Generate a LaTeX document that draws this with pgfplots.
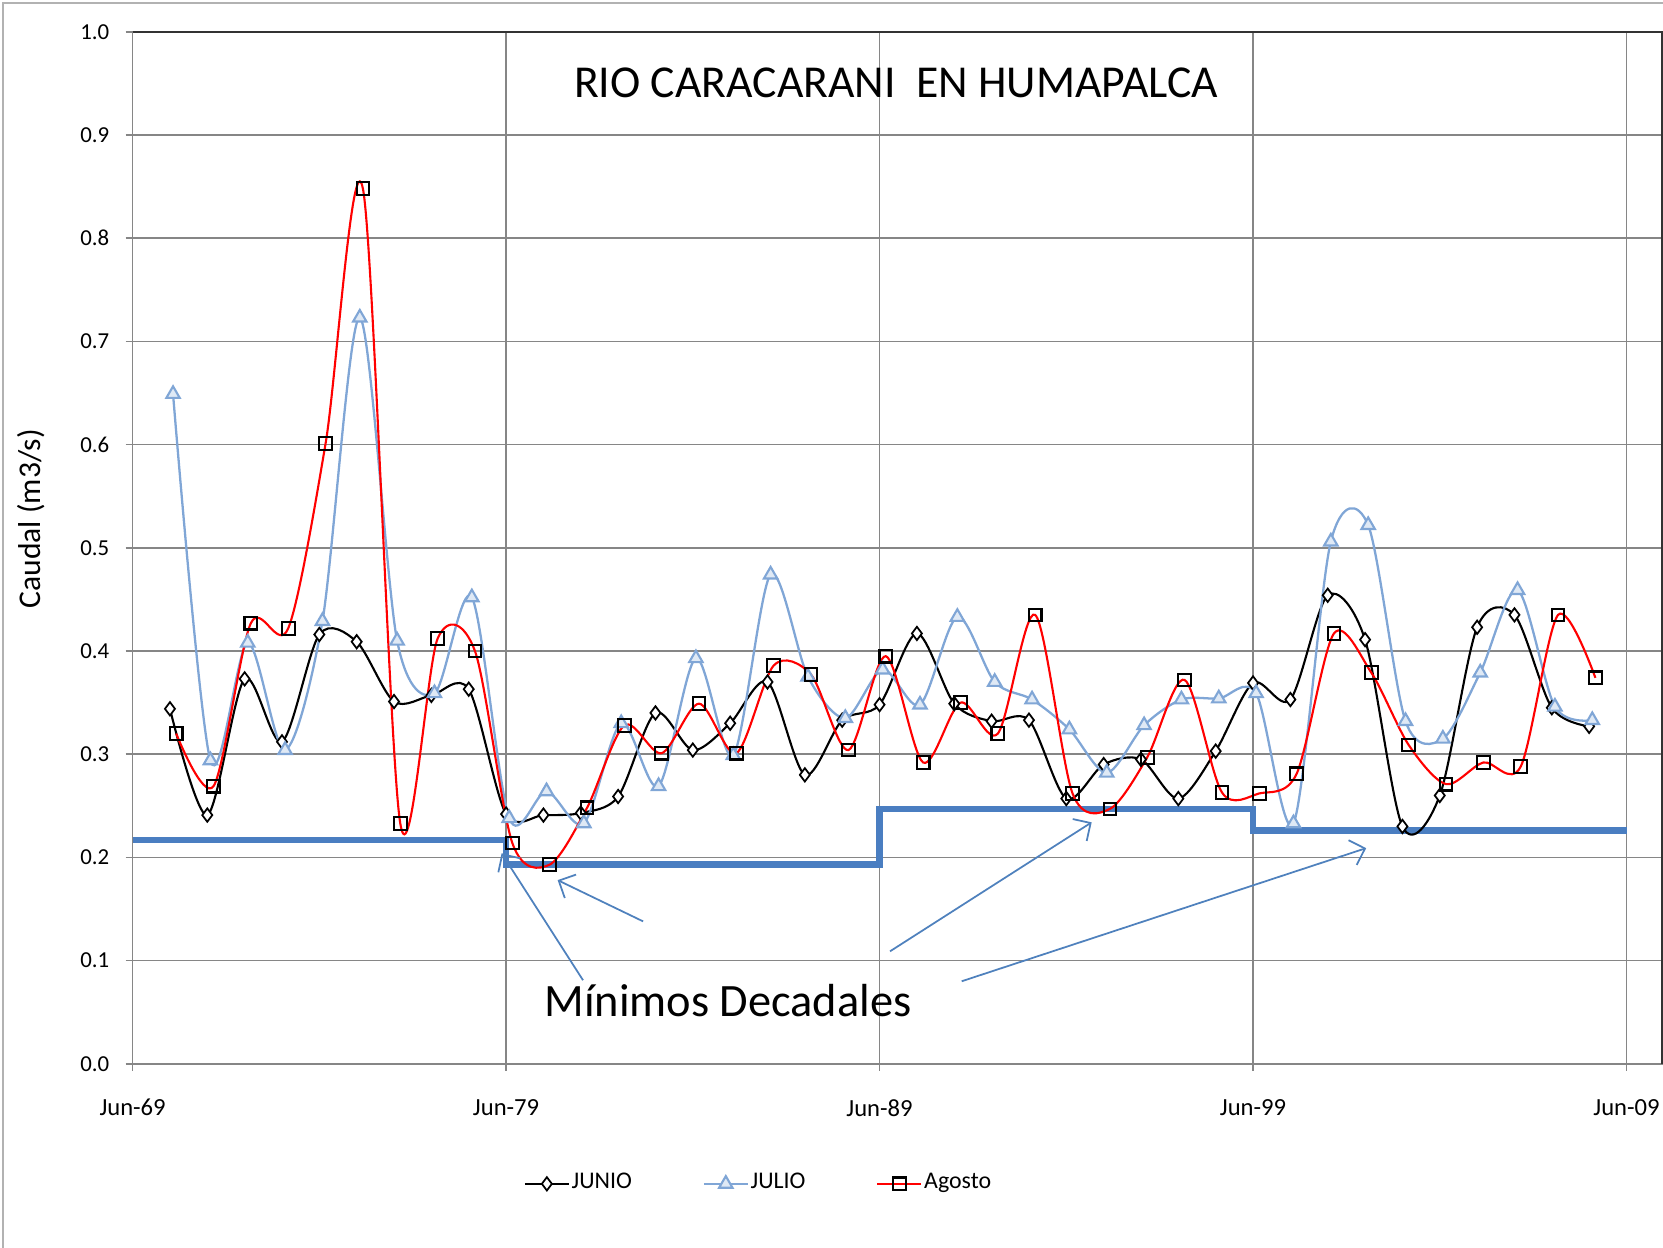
\documentclass[border=0pt]{standalone}
\usepackage{fontspec}
\setmainfont{Carlito}
\usepackage{pgfplots}
\pgfplotsset{compat=1.18}
\usepackage{pgfplotstable}
\usetikzlibrary{arrows.meta}

\definecolor{julio}{RGB}{128,166,214}
\definecolor{mins}{RGB}{74,126,193}
\definecolor{arrowblue}{RGB}{79,129,189}
\definecolor{gridgray}{RGB}{134,134,134}

% x in years after Jun-69; junio in June, julio one month later, agosto two
\pgfplotstableread{
xjun junio xjul julio xago agosto
1  0.344 1.083  0.649 1.167  0.320
2  0.241 2.083  0.294 2.167  0.269
3  0.373 3.083  0.408 3.167  0.427
4  0.312 4.083  0.304 4.167  0.422
5  0.416 5.083  0.429 5.167  0.601
6  0.409 6.083  0.723 6.167  0.848
7  0.351 7.083  0.410 7.167  0.233
8  0.357 8.083  0.359 8.167  0.412
9  0.363 9.083  0.452 9.167  0.400
10 0.242 10.083 0.238 10.167 0.214
11 0.241 11.083 0.264 11.167 0.193
12 0.243 12.083 0.233 12.167 0.248
13 0.259 13.083 0.330 13.167 0.328
14 0.340 14.083 0.269 14.167 0.301
15 0.304 15.083 0.393 15.167 0.349
16 0.330 16.083 0.299 16.167 0.301
17 0.370 17.083 0.474 17.167 0.386
18 0.280 18.083 0.375 18.167 0.377
19 0.333 19.083 0.335 19.167 0.304
20 0.348 20.083 0.382 20.167 0.395
21 0.417 21.083 0.348 21.167 0.292
22 0.349 22.083 0.433 22.167 0.350
23 0.332 23.083 0.370 23.167 0.320
24 0.333 24.083 0.353 24.167 0.435
25 0.257 25.083 0.324 25.167 0.262
26 0.290 26.083 0.282 26.167 0.247
27 0.295 27.083 0.328 27.167 0.297
28 0.257 28.083 0.353 28.167 0.372
29 0.303 29.083 0.354 29.167 0.263
30 0.369 30.083 0.359 30.167 0.262
31 0.353 31.083 0.233 31.167 0.281
32 0.454 32.083 0.506 32.167 0.417
33 0.411 33.083 0.522 33.167 0.379
34 0.230 34.083 0.332 34.167 0.309
35 0.260 35.083 0.315 35.167 0.271
36 0.423 36.083 0.379 36.167 0.292
37 0.435 37.083 0.459 37.167 0.288
38 0.345 38.083 0.346 38.167 0.435
39 0.327 39.083 0.333 39.167 0.374
}\caudales

\pgfplotstableread{
x minimo
0  0.217
10 0.193
20 0.247
30 0.226
40 0.226
}\minimos

\begin{document}
\begin{tikzpicture}
\useasboundingbox (-1.326,-1.84) rectangle (15.304,10.638);
\begin{axis}[
    scale only axis,
    width=15.29cm,
    height=10.32cm,
    at={(0,0)},
    anchor=south west,
    xmin=0, xmax=40.94,
    ymin=0, ymax=1,
    xtick={0,10,20,30,40},
    xticklabels={Jun-69,Jun-79,Jun-89,Jun-99,Jun-09},
    ytick={0,0.1,0.2,0.3,0.4,0.5,0.6,0.7,0.8,0.9,1.0},
    /pgf/number format/assume math mode=true,
    yticklabel style={/pgf/number format/fixed,
        /pgf/number format/fixed zerofill,
        /pgf/number format/precision=1,
        font=\fontsize{6.5}{8}\selectfont, xshift=-0.4mm},
    xticklabel style={font=\fontsize{7}{8.5}\selectfont, yshift=-1.6mm},
    xtick pos=bottom, ytick pos=left,
    tick align=outside,
    major tick length=0.7mm,
    tick style={gridgray, line width=0.45pt},
    grid=major,
    grid style={gridgray, line width=0.45pt},
    axis line style={gridgray, line width=0.5pt},
    legend columns=3,
    legend style={draw=none, fill=none, at={(0.2485,-0.1163)}, anchor=west,
        font=\fontsize{6.8}{8}\selectfont,
        nodes={inner xsep=0.5pt, anchor=west},
        /tikz/every even column/.append style={column sep=6.9mm}},
    legend image code/.code={
        \draw[mark=none] (-0.22cm,0cm) -- (0.22cm,0cm);
        \draw[only marks] plot coordinates {(0cm,0cm)};},
]
\addplot[mins, line width=1.8pt, const plot, forget plot]
    table[x=x, y=minimo] {\minimos};
\addplot[black, line width=0.6pt, smooth, mark=diamond*, mark size=1.9pt,
    mark options={black, fill=white, line width=0.5pt}]
    table[x=xjun, y=junio] {\caudales};
\addlegendentry{JUNIO}
\addplot[julio, line width=0.65pt, smooth, mark=triangle*, mark size=2.2pt,
    mark options={julio, fill=julio!25, line width=0.6pt}]
    table[x=xjul, y=julio] {\caudales};
\addlegendentry{JULIO}
\addplot[red, line width=0.6pt, smooth, mark=square, mark size=1.8pt,
    mark options={black, line width=0.6pt}]
    table[x=xago, y=agosto] {\caudales};
\addlegendentry{Agosto}

\draw[arrowblue, line width=0.5pt, -{Straight Barb[length=1.3mm,width=2.6mm]}]
    (axis cs:12.06,0.081) -- (axis cs:9.88,0.204);
\draw[arrowblue, line width=0.5pt, -{Straight Barb[length=1.3mm,width=2.6mm]}]
    (axis cs:13.67,0.138) -- (axis cs:11.38,0.178);
\draw[arrowblue, line width=0.5pt, -{Straight Barb[length=1.3mm,width=2.6mm]}]
    (axis cs:20.28,0.109) -- (axis cs:25.68,0.234);
\draw[arrowblue, line width=0.5pt, -{Straight Barb[length=1.3mm,width=2.6mm]}]
    (axis cs:22.2,0.080) -- (axis cs:33.03,0.209);

\node[anchor=base, font=\fontsize{13}{15}\selectfont]
    at (axis cs:20.44,0.9364) {RIO CARACARANI\ \ EN HUMAPALCA};
\node[anchor=base, font=\fontsize{13.2}{15}\selectfont]
    at (axis cs:15.94,0.046) {Mínimos Decadales};
\end{axis}
\draw[black!80, line width=0.6pt] (0,10.32) -- (15.29,10.32) -- (15.29,0);
\node[rotate=90, font=\fontsize{9}{10}\selectfont] at (-1.016,5.45) {Caudal (m3/s)};
\draw[gray!60, line width=0.5pt] (-1.296,-1.84) -- (-1.296,10.61) -- (15.304,10.61);
\end{tikzpicture}
\end{document}
